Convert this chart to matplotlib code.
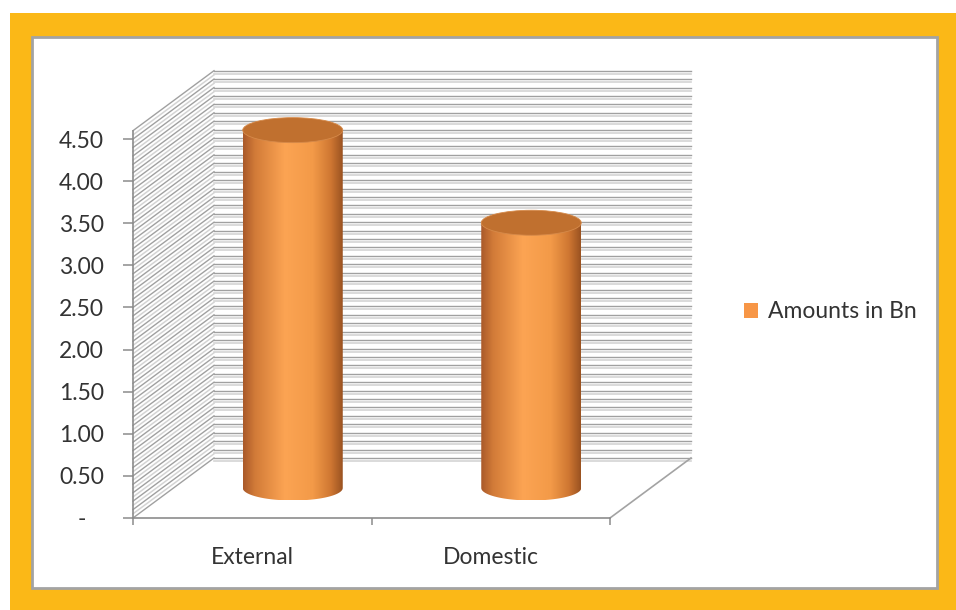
import numpy as np
import matplotlib
matplotlib.use('Agg')
import matplotlib.pyplot as plt
from matplotlib.patches import Rectangle, Ellipse, PathPatch, Patch
from matplotlib.path import Path
from matplotlib.colors import LinearSegmentedColormap

# data
categories = ['External', 'Domestic']
amounts = [4.25, 3.15]
series_name = 'Amounts in Bn'
y_ticks = [0.0, 0.5, 1.0, 1.5, 2.0, 2.5, 3.0, 3.5, 4.0, 4.5]
y_tick_labels = ['-   ', '0.50', '1.00', '1.50', '2.00', '2.50', '3.00', '3.50', '4.00', '4.50']
y_max = 4.6
grid_step = 0.1

plt.rcParams['font.family'] = ['Lato', 'DejaVu Sans']
fs = 16.5

W, H = 956, 610
fig = plt.figure(figsize=(W / 100, H / 100), dpi=100)
fig.patch.set_facecolor('white')

# orange frame + white panel
fig.add_artist(Rectangle((10 / W, 0), 946 / W, 597 / H, transform=fig.transFigure,
                         facecolor='#FBB817', edgecolor='none', zorder=-3))
fig.add_artist(Rectangle((32 / W, 22 / H), 905 / W, 551 / H, transform=fig.transFigure,
                         facecolor='white', edgecolor='#a3a3a3', lw=2, zorder=-2))

px_per_unit = 84.2
ax = fig.add_axes([133 / W, 92 / H, 477 / W, y_max * px_per_unit / H])
ax.set_xlim(-0.5, len(categories) - 0.5)
ax.set_ylim(0, y_max)
ax.patch.set_visible(False)

# depth of the 3d box, in data units
dx = 81 / (477 / len(categories))
dy = 60 / px_per_unit
x0, x1 = -0.5, len(categories) - 0.5

# back wall and side wall gridlines (dark line with a soft shadow line)
dark, light = '#a0a0a0', '#d4d4d4'
off_back = 3.0 / px_per_unit
off_side = grid_step / 2
for v in np.arange(0, y_max + 1e-9, grid_step):
    ax.plot([x0 + dx, x1 + dx], [v + dy - off_back] * 2, color=light, lw=1.2, clip_on=False, zorder=1)
    ax.plot([x0 + dx, x1 + dx], [v + dy] * 2, color=dark, lw=1.0, clip_on=False, zorder=1)
    if v > 0:
        ax.plot([x0, x0 + dx], [v - off_side, v + dy - off_side], color=light, lw=1.1, clip_on=False, zorder=1)
    ax.plot([x0, x0 + dx], [v, v + dy], color=dark, lw=1.0, clip_on=False, zorder=1)

# floor right edge
ax.plot([x1, x1 + dx], [0, dy], color='#a3a3a3', lw=1.2, clip_on=False, zorder=1)

# cylinders
cmap = LinearSegmentedColormap.from_list('cyl', [
    (0.0, '#a9592a'), (0.12, '#d27b38'), (0.42, '#fca453'),
    (0.7, '#f39a48'), (0.88, '#cf7732'), (1.0, '#9a5221')])
grad = np.linspace(0, 1, 256)[None, :]
r = 50 / (477 / len(categories))
b = 12.5 / px_per_unit
for i, v in enumerate(amounts):
    cx = i + dx / 2
    base = dy / 2
    top = v + dy / 2
    t = np.linspace(np.pi, 2 * np.pi, 80)
    arc = np.column_stack([cx + r * np.cos(t), base + b * np.sin(t)])
    verts = np.vstack([[cx - r, top], arc, [cx + r, top], [cx - r, top]])
    body = PathPatch(Path(verts), facecolor='none', edgecolor='none', clip_on=False)
    ax.add_patch(body)
    im = ax.imshow(grad, cmap=cmap, extent=(cx - r, cx + r, base - b, top),
                   aspect='auto', interpolation='bilinear', zorder=3)
    im.set_clip_path(body)
    im.set_clip_box(fig.bbox)
    ax.add_patch(Ellipse((cx, top), 2 * r, 2 * b, facecolor='#c0702f',
                         edgecolor='#d68a4a', lw=0.6, zorder=4, clip_on=False))

ax.set_xlim(-0.5, len(categories) - 0.5)
ax.set_ylim(0, y_max)

# axes styling
for s in ['top', 'right']:
    ax.spines[s].set_visible(False)
for s in ['left', 'bottom']:
    ax.spines[s].set_color('#8c8c8c')
    ax.spines[s].set_linewidth(1.2)
    ax.spines[s].set_zorder(2)

ax.set_yticks(y_ticks)
ax.set_yticklabels(y_tick_labels)
ax.tick_params(axis='y', direction='out', length=7, width=1.1, color='#8c8c8c',
               labelsize=fs, labelcolor='#333333', pad=14)

ax.set_xticks(np.arange(len(categories) + 1) - 0.5)
ax.set_xticklabels([])
ax.set_xticks(np.arange(len(categories)), minor=True)
ax.set_xticklabels(categories, minor=True)
ax.tick_params(axis='x', which='major', direction='out', length=5, width=1.1, color='#8c8c8c')
ax.tick_params(axis='x', which='minor', length=0, labelsize=fs, labelcolor='#333333', pad=21)

ax.legend(handles=[Patch(facecolor='#F79646', edgecolor='none', label=series_name)],
          loc='center left', bbox_to_anchor=(744 / W, 1 - 312 / H),
          bbox_transform=fig.transFigure, frameon=False, fontsize=fs,
          handlelength=0.6, handleheight=0.6, handletextpad=0.45,
          borderpad=0, borderaxespad=0, labelcolor='#333333')

fig.savefig('out.png', dpi=100)
